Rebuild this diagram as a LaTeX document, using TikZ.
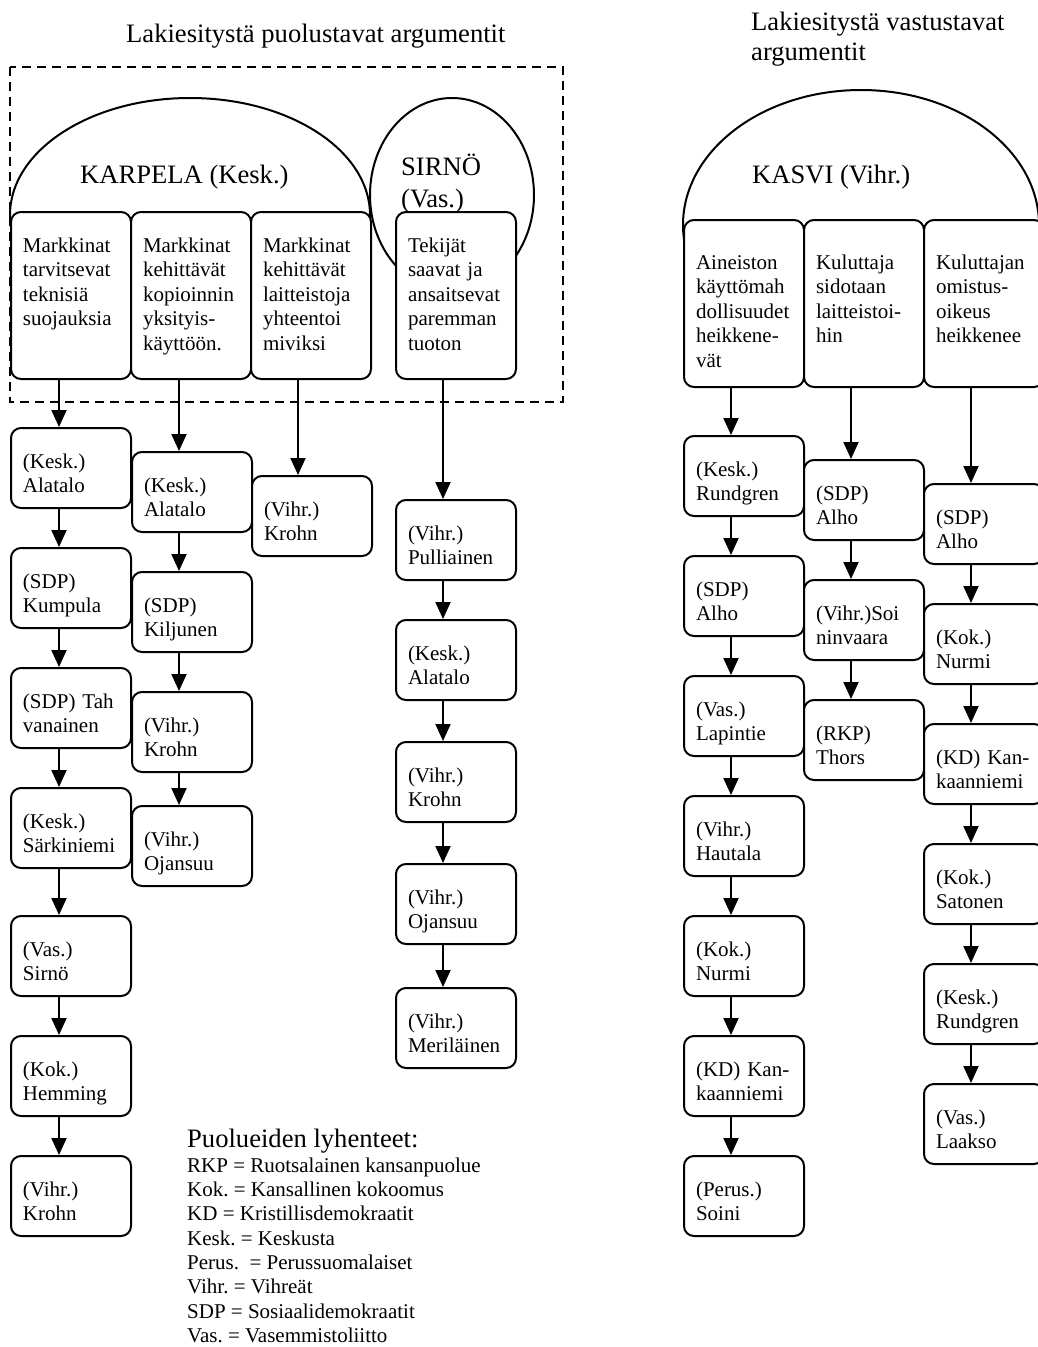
\documentclass[tikz,border=0pt]{standalone}
\usepackage{fontspec}
\setmainfont{Liberation Serif}
\usetikzlibrary{arrows.meta,shapes.geometric}
\frenchspacing
\newcommand{\boxfont}{\fontsize{21}{24.6}\selectfont}
\newcommand{\bigfont}{\fontsize{26.6}{30}\selectfont}
\tikzset{
  argbox/.style={draw, line width=2pt, rounded corners=10pt, fill=white, anchor=north west,
    inner xsep=12pt, inner ysep=0pt, text width=96pt, align=left, font=\boxfont,
    minimum height=80pt, text height=40pt, text depth=40pt},
  topbox/.style={argbox, minimum height=167pt, text height=40pt, text depth=127pt},
  toprbox/.style={argbox, minimum height=167pt, text height=49pt, text depth=118pt},
  bubble/.style={draw, ellipse, line width=2pt, inner sep=0pt},
  arr/.style={line width=2pt, -{Triangle[length=17pt,width=15pt]}},
  dashframe/.style={line width=1.5pt, dash pattern=on 9pt off 6pt},
  bigtext/.style={anchor=base west, inner sep=0pt, font=\bigfont},
  legtext/.style={anchor=base west, inner sep=0pt, font=\boxfont},
}
\begin{document}
\begin{tikzpicture}[x=1pt,y=-1pt]
\useasboundingbox (0,0) rectangle (1038,1347);

% dashed frame
\draw[dashframe] (10,67) rectangle (563,402);

% bubbles
\node[bubble, minimum width=360pt, minimum height=234pt] (karpela) at (190,215) {};
\node[bubble, minimum width=164pt, minimum height=194pt] (sirno) at (452,195) {};
\node[bubble, minimum width=356pt, minimum height=270pt] (kasvi) at (861,225) {};

% arrow columns
\coordinate (xa) at (59,0);
\coordinate (xb) at (179,0);
\coordinate (xc) at (298,0);
\coordinate (xd) at (443,0);
\coordinate (xe) at (731,0);
\coordinate (xf) at (851,0);
\coordinate (xg) at (971,0);

% top row, left
\node[topbox] (A1) at (10,211) {Markkinat\\tarvitsevat\\teknisiä\\suojauksia};
\node[topbox] (A2) at (130,211) {Markkinat\\kehittävät\\kopioinnin\\yksityis-\\käyttöön.};
\node[topbox] (A3) at (250,211) {Markkinat\\kehittävät\\laitteistoja\\yhteentoi\\miviksi};
\node[topbox] (A4) at (395,211) {Tekijät\\saavat ja\\ansaitsevat\\paremman\\tuoton};

% top row, right
\node[toprbox] (B1) at (683,219) {Aineiston\\käyttömah\\dollisuudet\\heikkene-\\vät};
\node[toprbox] (B2) at (803,219) {Kuluttaja\\sidotaan\\laitteistoi-\\hin};
\node[toprbox] (B3) at (923,219) {Kuluttajan\\omistus-\\oikeus\\heikkenee};

% left column 1
\node[argbox] (L1a) at (10,427) {(Kesk.)\\Alatalo};
\node[argbox] (L1b) at (10,547) {(SDP)\\Kumpula};
\node[argbox] (L1c) at (10,667) {(SDP) Tah\\vanainen};
\node[argbox] (L1d) at (10,787) {(Kesk.)\\Särkiniemi};
\node[argbox] (L1e) at (10,915) {(Vas.)\\Sirnö};
\node[argbox] (L1f) at (10,1035) {(Kok.)\\Hemming};
\node[argbox] (L1g) at (10,1155) {(Vihr.)\\Krohn};
% left column 2
\node[argbox] (L2a) at (131,451) {(Kesk.)\\Alatalo};
\node[argbox] (L2b) at (131,571) {(SDP)\\Kiljunen};
\node[argbox] (L2c) at (131,691) {(Vihr.)\\Krohn};
\node[argbox] (L2d) at (131,805) {(Vihr.)\\Ojansuu};
% left column 3
\node[argbox] (L3a) at (251,475) {(Vihr.)\\Krohn};
% left column 4
\node[argbox] (L4a) at (395,499) {(Vihr.)\\Pulliainen};
\node[argbox] (L4b) at (395,619) {(Kesk.)\\Alatalo};
\node[argbox] (L4c) at (395,741) {(Vihr.)\\Krohn};
\node[argbox] (L4d) at (395,863) {(Vihr.)\\Ojansuu};
\node[argbox] (L4e) at (395,987) {(Vihr.)\\Meriläinen};

% right column 1
\node[argbox] (R1a) at (683,435) {(Kesk.)\\Rundgren};
\node[argbox] (R1b) at (683,555) {(SDP)\\Alho};
\node[argbox] (R1c) at (683,675) {(Vas.)\\Lapintie};
\node[argbox] (R1d) at (683,795) {(Vihr.)\\Hautala};
\node[argbox] (R1e) at (683,915) {(Kok.)\\Nurmi};
\node[argbox] (R1f) at (683,1035) {(KD) Kan-\\kaanniemi};
\node[argbox] (R1g) at (683,1155) {(Perus.)\\Soini};
% right column 2
\node[argbox] (R2a) at (803,459) {(SDP)\\Alho};
\node[argbox] (R2b) at (803,579) {(Vihr.)Soi\\ninvaara};
\node[argbox] (R2c) at (803,699) {(RKP)\\Thors};
% right column 3
\node[argbox] (R3a) at (923,483) {(SDP)\\Alho};
\node[argbox] (R3b) at (923,603) {(Kok.)\\Nurmi};
\node[argbox] (R3c) at (923,723) {(KD) Kan-\\kaanniemi};
\node[argbox] (R3d) at (923,843) {(Kok.)\\Satonen};
\node[argbox] (R3e) at (923,963) {(Kesk.)\\Rundgren};
\node[argbox] (R3f) at (923,1083) {(Vas.)\\Laakso};

% arrows
\foreach \p/\q/\c in {A1/L1a/xa, L1a/L1b/xa, L1b/L1c/xa, L1c/L1d/xa, L1d/L1e/xa, L1e/L1f/xa, L1f/L1g/xa,
  A2/L2a/xb, L2a/L2b/xb, L2b/L2c/xb, L2c/L2d/xb,
  A3/L3a/xc,
  A4/L4a/xd, L4a/L4b/xd, L4b/L4c/xd, L4c/L4d/xd, L4d/L4e/xd,
  B1/R1a/xe, R1a/R1b/xe, R1b/R1c/xe, R1c/R1d/xe, R1d/R1e/xe, R1e/R1f/xe, R1f/R1g/xe,
  B2/R2a/xf, R2a/R2b/xf, R2b/R2c/xf,
  B3/R3a/xg, R3a/R3b/xg, R3b/R3c/xg, R3c/R3d/xg, R3d/R3e/xg, R3e/R3f/xg}
  \draw[arr] (\p.south -| \c) -- (\q.north -| \c);

% labels
\node[bigtext] (title1) at (126,42) {Lakiesitystä puolustavat argumentit};
\node[bigtext] (title2a) at (751,30) {Lakiesitystä vastustavat};
\node[bigtext] (title2b) at (751,60) {argumentit};
\node[bigtext] (karpelalab) at (80,183) {KARPELA (Kesk.)};
\node[bigtext] (sirnolab1) at (401,175) {SIRNÖ};
\node[bigtext] (sirnolab2) at (401,207) {(Vas.)};
\node[bigtext] (kasvilab) at (752,183) {KASVI (Vihr.)};

% legend
\node[bigtext] (legtitle) at (187,1147) {Puolueiden lyhenteet:};
\foreach \t [count=\i] in {RKP = Ruotsalainen kansanpuolue, Kok. = Kansallinen kokoomus,
  KD = Kristillisdemokraatit, Kesk. = Keskusta, Perus.~ = Perussuomalaiset,
  Vihr. = Vihreät, SDP = Sosiaalidemokraatit, Vas. = Vasemmistoliitto}
  \node[legtext] (leg\i) at (187,1148+24.3*\i) {\t};
\end{tikzpicture}
\end{document}
